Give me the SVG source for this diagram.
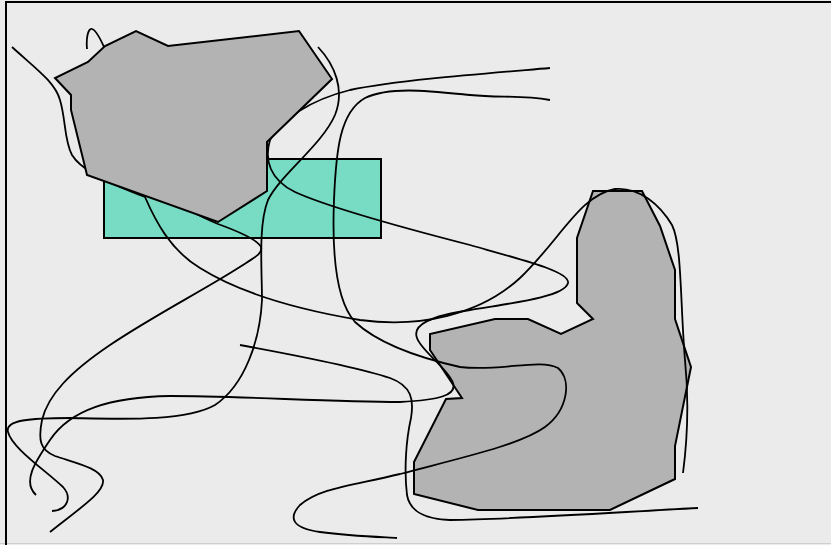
<svg xmlns="http://www.w3.org/2000/svg" width="831" height="545" viewBox="0 0 831 545">
<style>
.shape{stroke:#000;stroke-width:2;stroke-linejoin:miter}
.gray{fill:#b3b3b3}
.teal{fill:#77dcc3}
.curve{fill:none;stroke:#000;stroke-width:1.8;stroke-linecap:butt}
</style>
<rect x="0" y="0" width="831" height="545" fill="#ebebeb"/>
<line x1="0" y1="543.5" x2="831" y2="543.5" stroke="#cfcfcf" stroke-width="1"/>
<path d="M6,545 V2 H831" fill="none" stroke="#000" stroke-width="2"/>
<g id="rect-teal">
<rect class="shape teal" x="104" y="159" width="277" height="79"/>
</g>
<g id="polygon-right">
<polygon class="shape gray" points="593,191 642,191 660,226 675,270 675,319 691,367 675,446 675,479 610,510 478,510 414,494 414,462 446,399 462,398 430,350 430,334 495,319 528,319 561,334 593,319 577,303 577,238"/>
</g>
<g id="connectors">
<path class="curve" d="M12,47 C35,68 55,82 60,100 C66,120 64,140 72,155 C80,168 100,180 145,197 C155,220 170,250 200,268 C240,293 300,310 360,320 C420,328 480,315 520,278 C560,240 580,195 615,189 C640,187 660,205 672,225 C682,245 680,300 685,360 C690,410 686,450 683,473"/>
<path class="curve" d="M550,68 C480,74 400,80 350,90 C310,100 280,120 270,140 C264,160 270,180 295,192 C330,208 400,227 470,245 C530,262 570,272 568,283 C565,296 520,302 470,310 C430,316 412,325 417,338 C422,352 448,368 453,383 C457,395 440,400 400,402 C330,402 240,396 170,396 C110,397 70,410 50,440 C35,462 22,482 36,495"/>
<path class="curve" d="M550,100 C520,95 500,98 470,95 C430,91 390,86 365,98 C340,112 336,150 334,200 C332,250 335,300 355,322 C380,345 420,358 460,367 C500,372 540,358 558,368 C572,380 568,410 545,427 C520,445 460,458 400,474 C350,486 320,488 300,505 C288,518 292,528 320,532 C350,536 380,537 397,538"/>
<path class="curve" d="M318,47 C335,65 345,90 335,115 C322,145 280,175 268,200 C258,225 262,270 262,300 C260,340 245,385 215,405 C185,422 120,419 70,418 C30,418 5,420 8,432 C12,448 45,470 63,487 C72,497 68,510 52,511"/>
<path class="curve" d="M87,49 C86,38 88,28 92,29 C96,30 100,38 104,47 L150,160 C160,195 180,208 218,224 C240,232 258,240 261,247 C263,254 255,257 235,270 C200,292 150,318 110,345 C70,372 48,395 42,420 C38,440 40,450 55,456 C75,463 100,468 103,480 C105,492 80,508 50,532"/>
<path class="curve" d="M240,345 C300,356 360,368 390,378 C412,386 414,400 411,418 C406,440 404,470 407,495 C410,512 425,519 450,520 C520,519 620,512 698,508"/>
</g>
<g id="polygon-left">
<polygon class="shape gray" points="55,78 71,95 71,110 87,175 218,222 267,191 267,142 332,79 299,31 168,46 136,31 105,46 88,62"/>
</g>
</svg>
